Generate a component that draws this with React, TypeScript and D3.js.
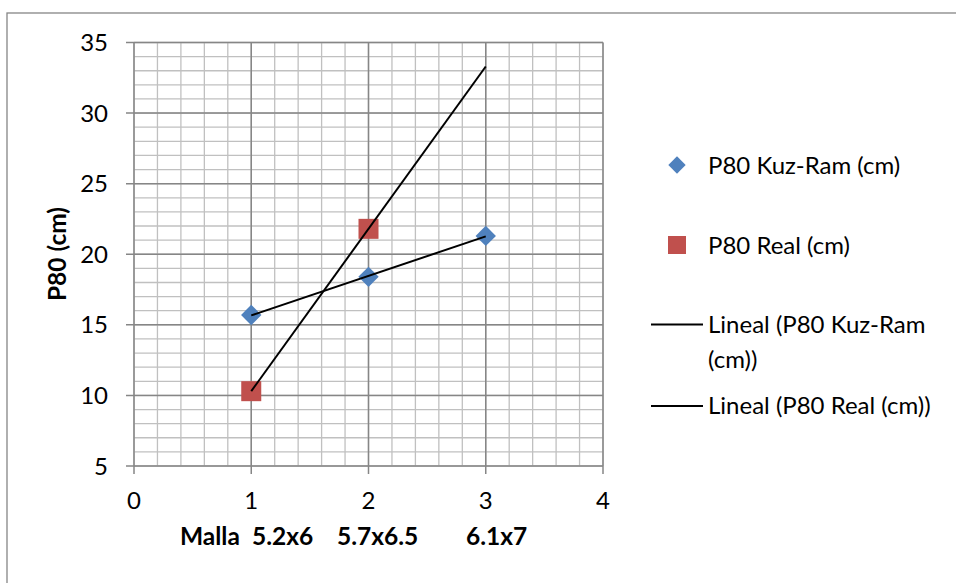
import React from "react";
import * as d3 from "d3";

const xValues = [1, 2, 3];
const kuzRam = [15.7, 18.4, 21.3];
const realX = [1, 2];
const realValues = [10.3, 21.8];
const xTicks = [0, 1, 2, 3, 4];
const yTicks = [5, 10, 15, 20, 25, 30, 35];
const seriesNames = ["P80 Kuz-Ram (cm)", "P80 Real (cm)"];
const trendNames = [["Lineal (P80 Kuz-Ram", "(cm))"], ["Lineal (P80 Real (cm))"]];
const yTitle = "P80 (cm)";
const xTitleParts = ["Malla", "5.2x6", "5.7x6.5", "6.1x7"];
const xTitleOffsets = [0, 72, 157, 286];

const FONT = "Lato, 'Open Sans', sans-serif";
const FS = 24;
const TFS = 24.5;

function linFit(xs: number[], ys: number[]) {
  const mx = d3.mean(xs)!;
  const my = d3.mean(ys)!;
  let num = 0, den = 0;
  xs.forEach((x, i) => { num += (x - mx) * (ys[i] - my); den += (x - mx) * (x - mx); });
  const b = num / den;
  const a = my - b * mx;
  return (x: number) => a + b * x;
}

export default function App() {
  const left = 134, right = 603, top = 42.5, bottom = 466;
  const x = d3.scaleLinear().domain([0, 4]).range([left, right]);
  const y = d3.scaleLinear().domain([5, 35]).range([bottom, top]);

  const minorX = d3.range(0, 4.0001, 0.2);
  const minorY = d3.range(5, 35.0001, 1);

  const trendDomain = d3.extent(xValues) as [number, number];
  const fits = [linFit(xValues, kuzRam), linFit(realX, realValues)];
  const line = d3.line<[number, number]>().x(d => x(d[0])).y(d => y(d[1]));

  const diamond = d3.symbol().type(d3.symbolDiamond2).size(265)();
  const major = "#868686";
  const minor = "#c0c0c0";

  return (
    <svg width={956} height={583} style={{ position: "fixed", left: 0, top: 0, background: "#fff" }}>
      <rect x={7} y={13} width={970} height={600} fill="#fff" stroke={major} strokeWidth={1.3} />
      {minorX.map((v, i) => (
        <line key={"mx" + i} x1={x(v)} x2={x(v)} y1={top} y2={bottom} stroke={minor} strokeWidth={1.3} />
      ))}
      {minorY.map((v, i) => (
        <line key={"my" + i} x1={left} x2={right} y1={y(v)} y2={y(v)} stroke={minor} strokeWidth={1.3} />
      ))}
      {xTicks.map((v) => (
        <line key={"Mx" + v} x1={x(v)} x2={x(v)} y1={top} y2={bottom + 8} stroke={major} strokeWidth={1.5} />
      ))}
      {yTicks.map((v) => (
        <line key={"My" + v} x1={left - 8} x2={right} y1={y(v)} y2={y(v)} stroke={major} strokeWidth={1.5} />
      ))}
      {yTicks.map((v) => (
        <text key={"yl" + v} x={108} y={y(v) + 8.6} textAnchor="end" fontFamily={FONT} fontSize={FS} fill="#000">{v}</text>
      ))}
      {xTicks.map((v) => (
        <text key={"xl" + v} x={x(v)} y={509} textAnchor="middle" fontFamily={FONT} fontSize={FS} fill="#000">{v}</text>
      ))}
      {xValues.map((v, i) => (
        <path key={"d" + i} d={diamond!} transform={`translate(${x(v)},${y(kuzRam[i])})`} fill="#4F81BD" />
      ))}
      {realX.map((v, i) => (
        <rect key={"s" + i} x={x(v) - 10} y={y(realValues[i]) - 10} width={20} height={20} fill="#C0504D" />
      ))}
      {fits.map((f, i) => (
        <path key={"t" + i} d={line(trendDomain.map(v => [v, f(v)] as [number, number]))!} stroke="#000" strokeWidth={2} fill="none" />
      ))}
      <text transform="translate(66,254) rotate(-90)" textAnchor="middle" fontFamily={FONT} fontWeight="bold" fontSize={TFS}>{yTitle}</text>
      <text y={544.5} fontFamily={FONT} fontWeight="bold" fontSize={TFS}>
        {xTitleParts.map((p, i) => (
          <tspan key={i} x={180 + xTitleOffsets[i]}>{p}</tspan>
        ))}
      </text>
      <path d={diamond!} transform="translate(677,165) scale(0.85)" fill="#4F81BD" />
      <text x={708} y={173.6} fontFamily={FONT} fontSize={FS}>{seriesNames[0]}</text>
      <rect x={668} y={236} width={18} height={18} fill="#C0504D" />
      <text x={708} y={254} fontFamily={FONT} fontSize={FS}>{seriesNames[1]}</text>
      <line x1={651} x2={703} y1={324.5} y2={324.5} stroke="#000" strokeWidth={2} />
      <text x={708} y={333.3} fontFamily={FONT} fontSize={FS}>
        <tspan x={708}>{trendNames[0][0]}</tspan>
        <tspan x={708} dy={35}>{trendNames[0][1]}</tspan>
      </text>
      <line x1={651} x2={703} y1={406} y2={406} stroke="#000" strokeWidth={2} />
      <text x={708} y={414.2} fontFamily={FONT} fontSize={FS}>{trendNames[1][0]}</text>
    </svg>
  );
}
